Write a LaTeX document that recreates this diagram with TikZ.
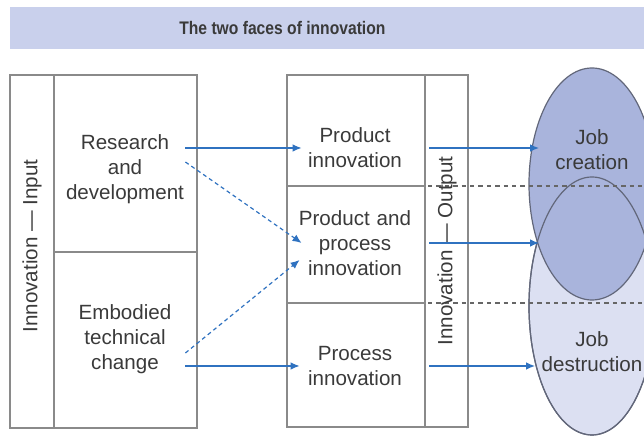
\documentclass[tikz,border=0pt]{standalone}
\usepackage{fontspec}
\setmainfont{Liberation Sans}
\newfontfamily\titlefont[FakeStretch=0.86]{Liberation Sans}
\usetikzlibrary{arrows.meta, positioning, shapes.geometric}
\definecolor{bandblue}{HTML}{C9D0EC}
\definecolor{boxgrey}{HTML}{8A8A8A}
\definecolor{textgrey}{HTML}{3A3A3A}
\definecolor{flowblue}{HTML}{2F72C0}
\definecolor{guidegrey}{HTML}{666666}
\definecolor{rimgrey}{HTML}{62677A}
\definecolor{creationfill}{HTML}{A9B4DC}
\definecolor{destructionfill}{HTML}{DCE0F2}

\begin{document}
\begin{tikzpicture}[x=0.5pt, y=-0.5pt]
\tikzset{% px grid of the figure, y downwards
  box/.style={rectangle, draw=boxgrey, line width=0.8pt, inner sep=0pt, outer sep=0pt},
  txt/.style={text=textgrey, font=\fontsize{10.3}{12.5}\selectfont, align=center, inner sep=0pt},
  flow/.style={draw, color=flowblue, line width=0.6pt, -{Latex[length=4.5pt, width=3.8pt]}},
  hint/.style={flow, dash pattern=on 2pt off 1.6pt},
  guide/.style={draw=guidegrey, line width=0.6pt, dash pattern=on 2.2pt off 2pt},
  rim/.style={draw=rimgrey, line width=0.6pt},
  blob/.style={ellipse, rim, inner sep=0pt, minimum width=63pt},
}
\useasboundingbox (0,0) rectangle (644,437);

% title
\node[fill=bandblue, minimum width=317pt, minimum height=21pt, anchor=north west,
  inner sep=0pt] (Band) at (10,7) {};
\node[text=textgrey, font=\titlefont\fontsize{9.1}{10}\selectfont\bfseries]
  (Title) at ([xshift=-22.5pt]Band.center) {The two faces of innovation};

% input side
\node[box, minimum width=22pt, minimum height=176.5pt, anchor=north west]
  (InputCol) at (10,75) {};
\node[box, minimum width=71.5pt, minimum height=88.5pt, anchor=north west]
  (Research) at (InputCol.north east) {};
\node[box, minimum width=71.5pt, minimum height=88pt, below=0pt of Research]
  (Embodied) {};

% output side
\node[box, minimum width=69pt, minimum height=55.5pt, anchor=north west]
  (Product) at (287,75) {};
\node[box, minimum width=69pt, minimum height=58.5pt, below=0pt of Product]
  (PP) {};
\node[box, minimum width=69pt, minimum height=62pt, below=0pt of PP]
  (Process) {};
\node[box, minimum width=21.5pt, minimum height=176pt, anchor=north west]
  (OutputCol) at (Product.north east) {};

% employment
\node[blob, fill=destructionfill, minimum height=129pt] (Destruction) at (592,306) {};
\node[blob, fill=creationfill, minimum height=116pt] (Creation) at (592,184) {};
\draw[rim] (Destruction.center) ellipse [x radius=31.5pt, y radius=64.5pt];

\draw[guide] ([xshift=1.5pt]PP.north east) -- +(108pt,0);
\draw[guide] ([xshift=1.5pt]PP.south east) -- +(108pt,0);

% texts
\node[txt, rotate=90] (InputTxt) at (32,246) {Innovation --- Input};
\node[txt, text width=60pt] (ResearchTxt) at (125,169) {Research\\and\\development};
\node[txt, text width=60pt] (EmbodiedTxt) at (125,339) {Embodied\\technical\\change};
\node[txt, text width=57pt] (ProductTxt) at (355,148) {Product\\innovation};
\node[txt, text width=57pt] (PPTxt) at (355,243) {Product and\\process\\innovation};
\node[txt, text width=57pt] (ProcessTxt) at (355,366) {Process\\innovation};
\node[txt, rotate=90] (OutputTxt) at (447,251) {Innovation --- Output};
\node[txt] (CreationTxt) at (592,150) {Job\\creation};
\node[txt] (DestructionTxt) at (592,352) {Job\\destruction};

\coordinate (CreationIn) at (539,148);
\coordinate (OverlapIn) at (539,243);
\coordinate (DestructionIn) at (535,366);

% arrows
\draw[flow] (ResearchTxt.east |- ProductTxt.west) -- ([xshift=2pt]ProductTxt.west);
\draw[hint] ([yshift=3.5pt]ResearchTxt.east) -- ([xshift=2pt]PPTxt.west);
\draw[hint] ([yshift=-7pt]EmbodiedTxt.east) -- ([xshift=1pt, yshift=-8.5pt]PPTxt.west);
\draw[flow] (EmbodiedTxt.east |- ProcessTxt.west) -- ([xshift=1pt]ProcessTxt.west);
\draw[flow] ([xshift=8.5pt]ProductTxt.east) -- (CreationIn);
\draw[flow] ([xshift=8.5pt]PPTxt.east) -- (OverlapIn);
\draw[flow] ([xshift=8.5pt]ProcessTxt.east) -- (DestructionIn);
\end{tikzpicture}
\end{document}
